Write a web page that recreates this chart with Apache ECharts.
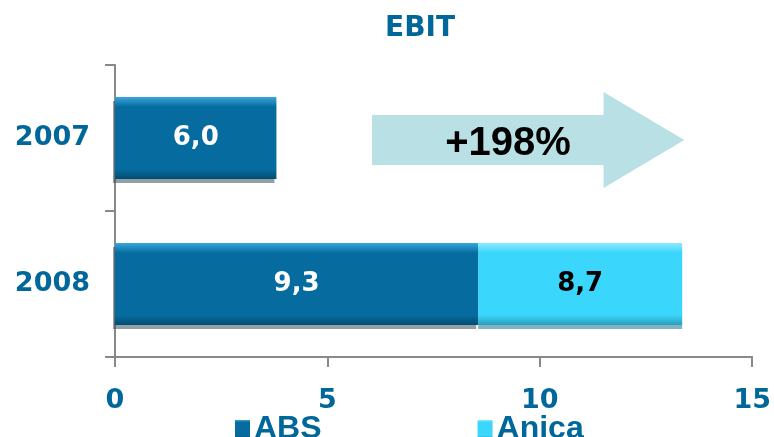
<!DOCTYPE html>
<html>
<head>
  <meta charset="utf-8">
  <title>EBIT</title>
  <style>
    html, body { margin: 0; padding: 0; background: #fff; }
    #chart { width: 774px; height: 437px; }
  </style>
  <script src="https://cdn.jsdelivr.net/npm/echarts@6/dist/echarts.min.js"></script>
</head>
<body>
  <div id="chart"></div>
  <script>
    // years on the category axis
    var years = ['2007', '2008'];
    // bar lengths as drawn in the picture (axis units)
    var absValues = [3.8, 8.55];
    var anicaValues = [null, 4.8];
    // printed labels inside the bars
    var absLabels = ['6,0', '9,3'];
    var anicaLabels = ['', '8,7'];
    var xTicks = [0, 5, 10, 15];
    var growthText = '+198%';

    var blue = '#00679b';
    var chart = echarts.init(document.getElementById('chart'));

    function barColor(top, mid, bottom) {
      return new echarts.graphic.LinearGradient(0, 0, 0, 1, [
        { offset: 0, color: top },
        { offset: 0.12, color: mid },
        { offset: 0.88, color: mid },
        { offset: 1, color: bottom }
      ]);
    }

    var option = {
      title: {
        text: 'EBIT',
        left: 380,
        top: 10,
        textStyle: { color: blue, fontFamily: 'DejaVu Sans', fontWeight: 'bold', fontSize: 28 }
      },
      legend: {
        top: 408,
        left: 230,
        itemGap: 156,
        itemWidth: 15,
        itemHeight: 18,
        icon: 'rect',
        textStyle: { color: blue, fontFamily: 'Liberation Sans', fontWeight: 'bold', fontSize: 32, padding: [0, 0, 0, -1] },
        data: ['ABS', 'Anica']
      },
      grid: { left: 115, right: 20, top: 65, bottom: 80 },
      xAxis: {
        type: 'value',
        min: xTicks[0],
        max: xTicks[xTicks.length - 1],
        interval: 5,
        axisLine: { show: true, lineStyle: { color: '#888', width: 2 } },
        axisTick: { show: true, length: 10, lineStyle: { color: '#888', width: 2 } },
        splitLine: { show: false },
        axisLabel: { margin: 30, color: blue, fontFamily: 'DejaVu Sans', fontWeight: 'bold', fontSize: 27 }
      },
      yAxis: {
        type: 'category',
        inverse: true,
        data: years,
        axisLine: { show: true, lineStyle: { color: '#888', width: 2 } },
        axisTick: { show: true, length: 10, lineStyle: { color: '#888', width: 2 } },
        axisLabel: { margin: 25, color: blue, fontFamily: 'DejaVu Sans', fontWeight: 'bold', fontSize: 27 }
      },
      series: [
        {
          name: 'ABS',
          type: 'bar',
          stack: 'ebit',
          barWidth: 82,
          data: absValues,
          itemStyle: {
            color: barColor('#3aa6dc', '#066c9f', '#024d73'),
            shadowColor: 'rgba(60,80,90,0.55)',
            shadowOffsetY: 4,
            shadowOffsetX: -2
          },
          label: {
            show: true,
            position: 'inside',
            color: '#fff',
            fontFamily: 'DejaVu Sans',
            fontWeight: 'bold',
            fontSize: 26,
            formatter: function (p) { return absLabels[p.dataIndex]; }
          }
        },
        {
          name: 'Anica',
          type: 'bar',
          stack: 'ebit',
          barWidth: 82,
          data: anicaValues,
          itemStyle: {
            color: barColor('#8eeaff', '#3ad6fc', '#2a9dbb'),
            shadowColor: 'rgba(40,130,160,0.6)',
            shadowOffsetY: 4
          },
          label: {
            show: true,
            position: 'inside',
            color: '#000',
            fontFamily: 'DejaVu Sans',
            fontWeight: 'bold',
            fontSize: 26,
            formatter: function (p) { return anicaLabels[p.dataIndex]; }
          }
        }
      ]
    };
    chart.setOption(option);

    // growth arrow placed via the axes (start, shaft end, tip in axis units)
    var y0 = chart.convertToPixel({ yAxisIndex: 0 }, years[0]);
    var xs = chart.convertToPixel({ xAxisIndex: 0 }, 6.05);
    var xm = chart.convertToPixel({ xAxisIndex: 0 }, 11.5);
    var xe = chart.convertToPixel({ xAxisIndex: 0 }, 13.4);
    var cy = y0 + 2;
    chart.setOption({
      graphic: [
        {
          type: 'polygon',
          shape: {
            points: [
              [xs, cy - 25], [xm, cy - 25], [xm, cy - 48], [xe, cy],
              [xm, cy + 48], [xm, cy + 25], [xs, cy + 25]
            ]
          },
          style: { fill: '#b9e0e4' }
        },
        {
          type: 'text',
          x: 508,
          y: cy + 4,
          style: {
            text: growthText,
            fill: '#000',
            font: 'bold 40px "Liberation Sans", Arial, sans-serif',
            align: 'center',
            verticalAlign: 'middle'
          }
        }
      ]
    });
  </script>
</body>
</html>
